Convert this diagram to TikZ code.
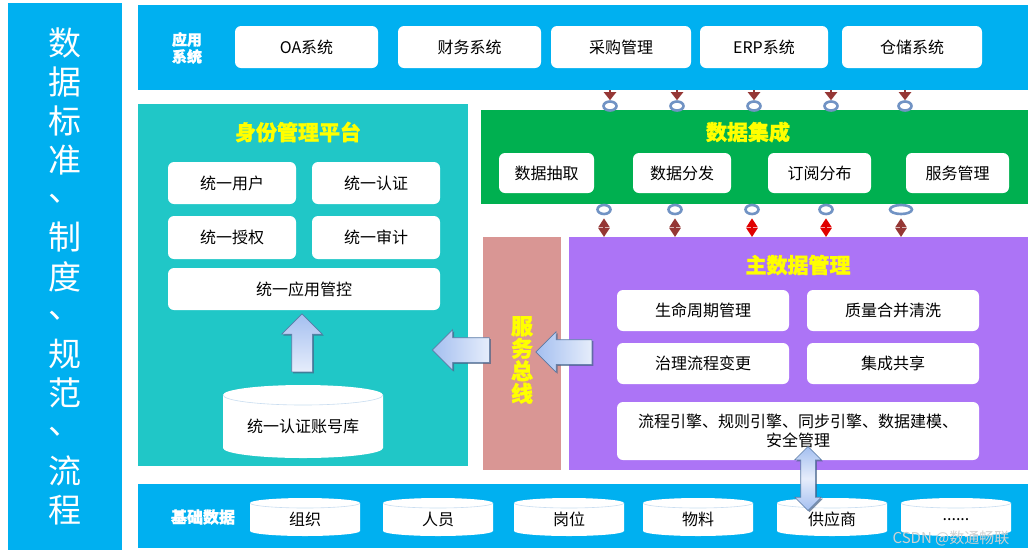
\documentclass[tikz,border=0pt]{standalone}
\usepackage{fontspec}
\setmainfont{Noto Sans CJK SC}[BoldFeatures={FakeBold=1.2}]
\usetikzlibrary{shapes.arrows,shapes.geometric,arrows.meta,shadows}
\definecolor{skyb}{HTML}{00B0F0}
\definecolor{tealc}{HTML}{20C7C7}
\definecolor{greenc}{HTML}{00B050}
\definecolor{purplec}{HTML}{AC74F6}
\definecolor{busc}{HTML}{D99694}
\definecolor{ylw}{HTML}{FFFF00}
\definecolor{ringc}{HTML}{7193C4}
\definecolor{darkred}{HTML}{953735}
\definecolor{brightred}{HTML}{E00000}
\definecolor{arrowdark}{HTML}{A4BFF0}
\definecolor{arrowlight}{HTML}{E6EDFB}
\definecolor{arrowedge}{HTML}{5A7BA6}
\definecolor{cyledge}{HTML}{C9DDF0}
\tikzset{
  panel/.style={draw=none,inner sep=0},
  wbox/.style={fill=white,rounded corners=6pt,inner sep=0,font=\fontsize{16}{19}\selectfont,text=black},
  ttl/.style={font=\bfseries\fontsize{21}{24}\selectfont,text=ylw},
  lbl/.style={font=\bfseries\fontsize{16}{18}\selectfont,text=white,align=center},
  bigchar/.style={font=\fontsize{33}{36}\selectfont,text=white,inner sep=0},
  ring/.style={ellipse,draw=ringc,line width=2.6pt,minimum width=13pt,minimum height=9pt,inner sep=0},
  blockarrow/.style={draw=arrowedge,line width=0.6pt,drop shadow={shadow xshift=1.5pt,shadow yshift=-1.5pt,fill=arrowedge!80!black,opacity=0.7}},
  cyltext/.style={font=\fontsize{16}{19}\selectfont,text=black,inner sep=0}
}
\newcommand\dbcyl[7]{%
  \fill[white] ({#2-#4/2},{#3-#5/2+#6}) arc[start angle=180,end angle=360,x radius={#4/2},y radius=#6]
     -- ({#2+#4/2},{#3+#5/2-#6}) arc[start angle=0,end angle=180,x radius={#4/2},y radius=#6] -- cycle;
  \draw[cyledge,line width=0.6pt] ({#2-#4/2},{#3-#5/2+#6}) arc[start angle=180,end angle=0,x radius={#4/2},y radius=#6];
  \node[cyltext] (#1) at (#2,{#3+#6/2}) {#7};
}
\begin{document}
\begin{tikzpicture}[x=1pt,y=-1pt]
\useasboundingbox (0,0) rectangle (1035,558);
\fill[white] (0,0) rectangle (1035,558);
% panels
\fill[skyb] (8,3) rectangle (122,550);
\fill[skyb] (138,5) rectangle (1028,90);
\fill[tealc] (138,104) rectangle (468,466);
\fill[greenc] (481,110) rectangle (1028,204);
\fill[busc] (483,237) rectangle (561,470);
\fill[purplec] (569,237) rectangle (1028,470);
\fill[skyb] (138,484) rectangle (1028,548);
% left vertical text
\foreach \c [count=\i from 0] in {数,据,标,准,、,制,度,、,规,范,、,流,程}
  \node[bigchar] (s\i) at (65,{43+\i*38.9}) {\c};
% app systems
\node[lbl,font=\bfseries\fontsize{15}{17}\selectfont] (applbl) at (187,48) {应用\\系统};
\node[wbox,minimum width=143pt,minimum height=42pt] (oa) at (306.5,47) {OA系统};
\node[wbox,minimum width=143pt,minimum height=42pt] (cw) at (469.5,47) {财务系统};
\node[wbox,minimum width=140pt,minimum height=42pt] (cg) at (621,47) {采购管理};
\node[wbox,minimum width=128pt,minimum height=42pt] (erp) at (764,47) {ERP系统};
\node[wbox,minimum width=140pt,minimum height=42pt] (cc) at (912,47) {仓储系统};
% identity
\node[ttl] (idt) at (298,132) {身份管理平台};
\node[wbox,minimum width=128pt,minimum height=42pt] (yh) at (232,183) {统一用户};
\node[wbox,minimum width=128pt,minimum height=42pt] (rz) at (376,183) {统一认证};
\node[wbox,minimum width=128pt,minimum height=43pt] (sq) at (232,237.5) {统一授权};
\node[wbox,minimum width=128pt,minimum height=43pt] (sj) at (376,237.5) {统一审计};
\node[wbox,minimum width=272pt,minimum height=42pt] (gk) at (304,289) {统一应用管控};
\dbcyl{zhk}{303}{421.5}{160}{73}{10}{统一认证账号库}
\node[single arrow,shape border rotate=90,minimum height=58pt,inner sep=10pt,single arrow head extend=10pt,
  blockarrow,bottom color=arrowlight,top color=arrowdark] (upar) at (302,348) {};
% data integration
\node[ttl] (dit) at (748,132) {数据集成};
\node[wbox,minimum width=95pt,minimum height=40pt] (cq) at (546.5,173) {数据抽取};
\node[wbox,minimum width=98pt,minimum height=40pt] (ff) at (682,173) {数据分发};
\node[wbox,minimum width=103pt,minimum height=40pt] (dy) at (819.5,173) {订阅分布};
\node[wbox,minimum width=103pt,minimum height=40pt] (fw) at (957.5,173) {服务管理};
% connectors app -> integration
\foreach \x [count=\i] in {610,677,754,831,905}{
  \node[ring] (ta\i) at (\x,106) {};
  \coordinate (tt\i) at (\x,90);
  \draw[darkred,line width=2.6pt,-{Triangle[width=12pt,length=8pt]}] (tt\i) -- (ta\i.north);
}
% connectors integration <-> master
\foreach \x/\col/\w [count=\i] in {604/darkred/13,675/darkred/13,752/brightred/13,826/brightred/13,901/darkred/22}{
  \node[ring,minimum width=\w pt] (tb\i) at (\x,209.5) {};
  \coordinate (tm\i) at (\x,237);
  \draw[\col,line width=2.2pt,{Triangle[width=11pt,length=9pt]}-{Triangle[width=11pt,length=9pt]}] ([yshift=-3pt]tb\i.south) -- (tm\i);
}
% service bus
\node[font=\bfseries\fontsize{22}{22.5}\selectfont,text=ylw,align=center,inner sep=0] (bus) at (522,360) {服\\务\\总\\线};
% master data
\node[ttl] (mdt) at (798,265) {主数据管理};
\node[wbox,minimum width=172pt,minimum height=41pt] (sm) at (703,310.5) {生命周期管理};
\node[wbox,minimum width=172pt,minimum height=41pt] (zl) at (893,310.5) {质量合并清洗};
\node[wbox,minimum width=172pt,minimum height=41pt] (lc) at (703,363.5) {治理流程变更};
\node[wbox,minimum width=172pt,minimum height=41pt] (gx) at (893,363.5) {集成共享};
\node[wbox,minimum width=362pt,minimum height=58pt,align=center] (yq) at (798,431) {流程引擎、规则引擎、同步引擎、数据建模、\\安全管理};
% left arrows
\node[single arrow,shape border rotate=180,minimum height=56pt,inner sep=12pt,single arrow head extend=8pt,
  blockarrow,left color=arrowdark,right color=arrowlight] (la1) at (570,352) {};
\node[single arrow,shape border rotate=180,minimum height=57pt,inner sep=12pt,single arrow head extend=8pt,
  blockarrow,left color=arrowdark,right color=arrowlight] (la2) at (467,350) {};
% base data
\node[lbl] (jc) at (203,517) {基础数据};
\dbcyl{zz}{305}{517}{110}{38}{5}{组织}
\dbcyl{ry}{438}{517}{110}{38}{5}{人员}
\dbcyl{gw}{569}{517}{110}{38}{5}{岗位}
\dbcyl{wl}{698}{517}{110}{38}{5}{物料}
\dbcyl{gys}{832}{517}{110}{38}{5}{供应商}
\dbcyl{more}{956}{517}{110}{38}{5}{......}
% vertical double arrow
\node[double arrow,shape border rotate=90,minimum height=64pt,inner sep=7pt,double arrow head extend=6pt,
  blockarrow,top color=arrowdark,bottom color=arrowdark,middle color=arrowlight] (va) at (808,478.5) {};
% watermark
\node[font=\fontsize{15}{17}\selectfont,text=black!18,inner sep=0] (wm) at (951,538) {CSDN @数通畅联};
\end{tikzpicture}
\end{document}
